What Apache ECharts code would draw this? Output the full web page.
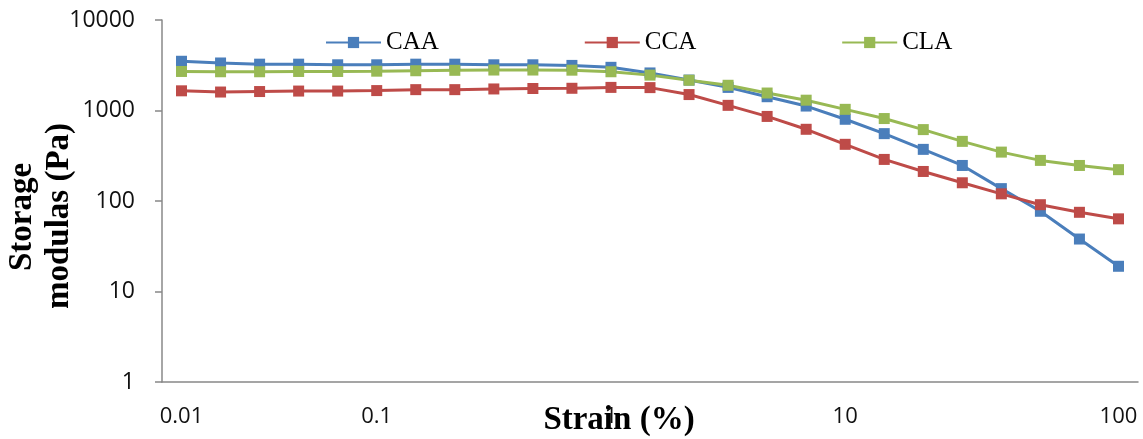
<!DOCTYPE html>
<html lang="en">
<head>
  <meta charset="UTF-8">
  <title>Storage modulus vs strain</title>
  <script src="https://cdn.jsdelivr.net/npm/echarts@6/dist/echarts.min.js"></script>
  <style>
    * { margin: 0; padding: 0; box-sizing: border-box; }
    body { background: #fff; }
    #chart { width: 1143px; height: 439px; }
  </style>
</head>
<body>
<div id="chart"></div>
<script>
// strain (%) categories, evenly spaced in the original category axis
const strain = ['0.01','0.0158','0.0251','0.0398','0.0631','0.1','0.147','0.215','0.316','0.464','0.681','1',
  '1.47','2.15','3.16','4.64','6.81','10','13.9','19.3','26.8','37.3','51.8','72','100'];
const decadeLabels = ['0.01','0.1','1','10','100'];

const caa = [3500,3350,3250,3250,3200,3200,3250,3250,3200,3200,3150,3000,2600,2170,1800,1420,1120,800,555,372,247,137,77,38,19];
const cca = [1650,1600,1620,1640,1640,1660,1700,1700,1730,1750,1760,1800,1790,1500,1140,860,620,423,288,212,159,120,91,75,63.5];
const cla = [2700,2680,2680,2700,2700,2720,2750,2780,2800,2800,2790,2680,2460,2160,1900,1560,1300,1030,815,615,456,347,281,247,222];

const chart = echarts.init(document.getElementById('chart'));

function line(name, data, color) {
  return {
    name: name, type: 'line', data: data,
    symbol: 'rect', symbolSize: 11,
    lineStyle: { color: color, width: 3 },
    itemStyle: { color: color },
    emphasis: { disabled: true }
  };
}

chart.setOption({
  animation: false,
  grid: { left: 162, right: 5, top: 20, bottom: 57 },
  legend: {
    left: 325, top: 30, padding: 0,
    itemWidth: 55, itemHeight: 14, itemGap: 145,
    textStyle: { fontFamily: 'Liberation Serif', fontSize: 25, color: '#000' },
    data: ['CAA', 'CCA', 'CLA']
  },
  xAxis: {
    type: 'category',
    data: strain,
    boundaryGap: true,
    axisLine: { lineStyle: { color: '#888', width: 1.5 } },
    axisTick: { show: false },
    axisLabel: {
      interval: (i, v) => decadeLabels.includes(v),
      margin: 24,
      fontFamily: 'Open Sans', fontSize: 22, color: '#111'
    },
    splitLine: { show: false }
  },
  yAxis: {
    type: 'log', logBase: 10, min: 1, max: 10000,
    axisLine: { show: true, lineStyle: { color: '#888', width: 1.5 } },
    axisTick: { show: true, length: 7, lineStyle: { color: '#888', width: 1.5 } },
    axisLabel: { margin: 27, fontFamily: 'Open Sans', fontSize: 23, color: '#111', formatter: v => String(v) },
    splitLine: { show: false }
  },
  graphic: [
    { type: 'text', x: 22, y: 217, rotation: Math.PI / 2,
      style: { text: 'Storage', font: 'bold 33px "Liberation Serif"', fill: '#000', textAlign: 'center', textVerticalAlign: 'middle' } },
    { type: 'text', x: 59, y: 216, rotation: Math.PI / 2,
      style: { text: 'modulas (Pa)', font: 'bold 33px "Liberation Serif"', fill: '#000', textAlign: 'center', textVerticalAlign: 'middle' } },
    { type: 'text', x: 619, y: 420,
      style: { text: 'Strain (%)', font: 'bold 33px "Liberation Serif"', fill: '#000', textAlign: 'center', textVerticalAlign: 'middle' } }
  ],
  series: [
    line('CAA', caa, '#4a7ebb'),
    line('CCA', cca, '#be4b48'),
    line('CLA', cla, '#98b954')
  ]
});
</script>
</body>
</html>
